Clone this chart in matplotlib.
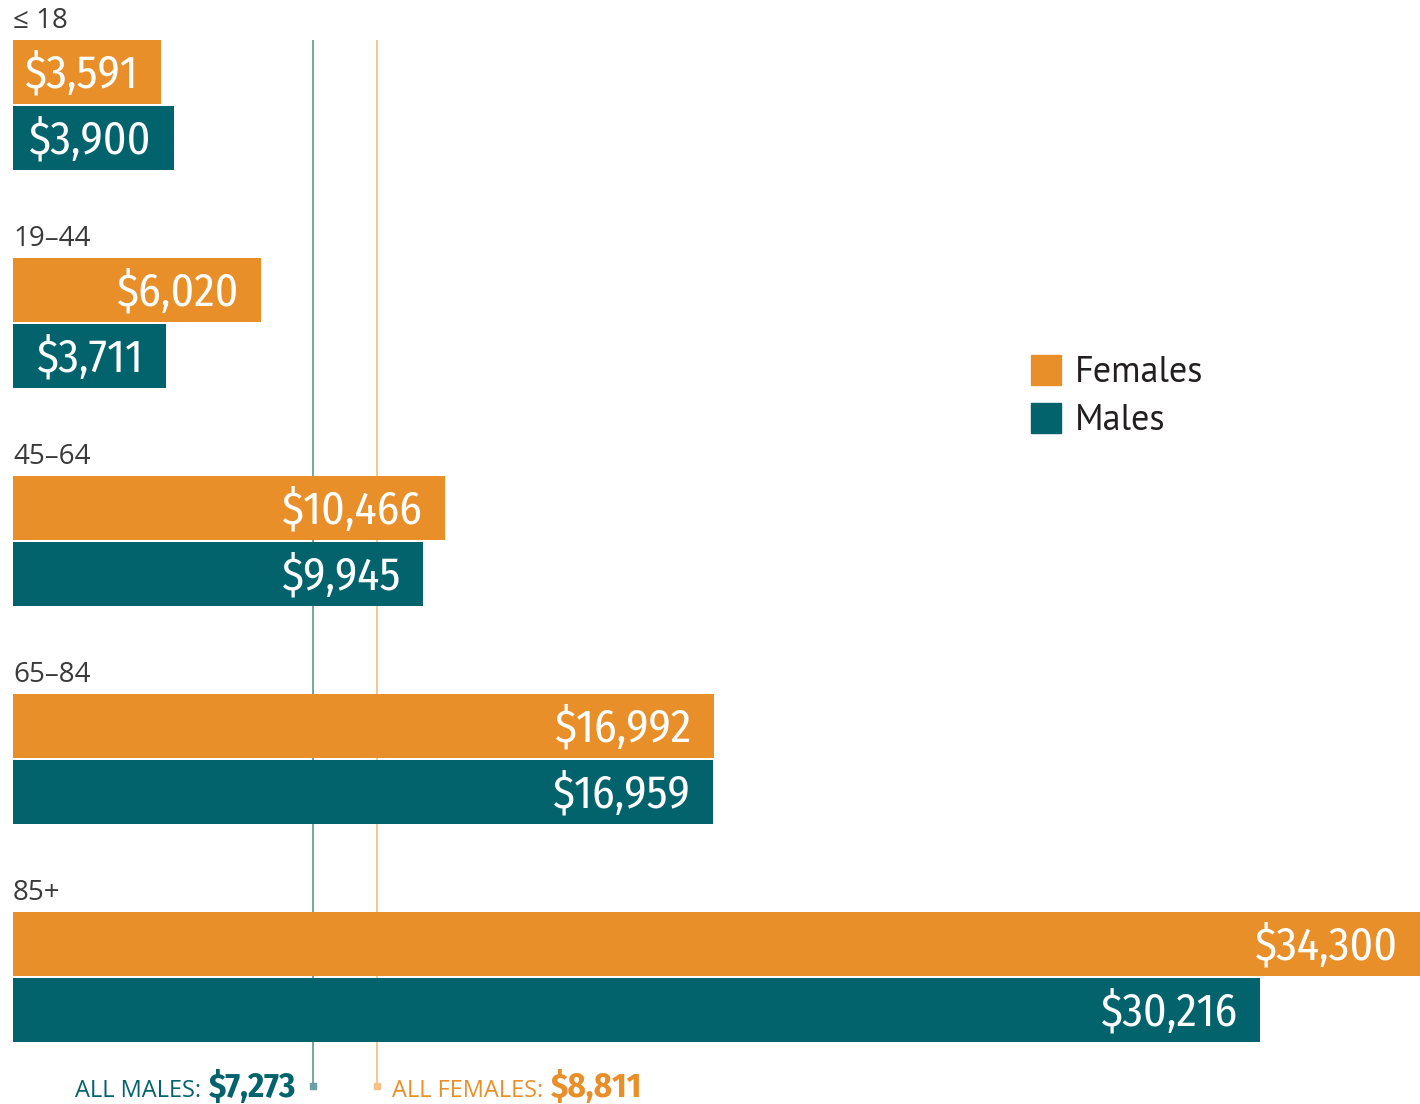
import matplotlib
matplotlib.use("Agg")
import matplotlib.pyplot as plt
from matplotlib.patches import Rectangle

# Average spending per person by age group and sex
age_groups = ["≤ 18", "19–44", "45–64", "65–84", "85+"]
females = [3591, 6020, 10466, 16992, 34300]
males = [3900, 3711, 9945, 16959, 30216]
all_males = 7273
all_females = 8811

ORANGE = "#E98F2A"
TEAL = "#02636C"
TEAL_LIGHT = "#6A9FA5"
ORANGE_LIGHT = "#F4C187"
GREY = "#3A3A3A"

NARROW = ["Fira Sans Condensed", "PT Sans Narrow", "DejaVu Sans"]
BODY = ["Open Sans", "DejaVu Sans"]
LEGEND_FONT = ["PT Sans", "Open Sans", "DejaVu Sans"]

W, H = 1420, 1104
fig = plt.figure(figsize=(W / 100, H / 100), dpi=100)

# main axes: x in dollars, y in layout units (one unit per pixel row)
ax = fig.add_axes([0, 0, 1, 1])
XMIN, XMAX = -315, 34093
ax.set_xlim(XMIN, XMAX)
ax.set_ylim(H, 0)
ax.axis("off")

PITCH = 218
BAR_H = 64
F_OFF, M_OFF = 72, 138

f_y = [F_OFF + PITCH * i for i in range(len(age_groups))]
m_y = [M_OFF + PITCH * i for i in range(len(age_groups))]

ax.barh(f_y, females, height=BAR_H, left=0, color=ORANGE, zorder=2)
ax.barh(m_y, males, height=BAR_H, left=0, color=TEAL, zorder=2)

# overall averages as reference lines
LINE_TOP, LINE_BOT = 40, 1086
ax.vlines(all_males, LINE_TOP, LINE_BOT, color=TEAL_LIGHT, lw=1.3, zorder=1)
ax.vlines(all_females, LINE_TOP, LINE_BOT, color=ORANGE_LIGHT, lw=1.3, zorder=1)
ax.plot([all_males], [LINE_BOT], marker="s", ms=5, color=TEAL_LIGHT, zorder=1)
ax.plot([all_females], [LINE_BOT], marker="s", ms=5, color=ORANGE_LIGHT, zorder=1)

# value labels inside bars
for ys, vals in ((f_y, females), (m_y, males)):
    for y, v in zip(ys, vals):
        ax.annotate(f"${v:,}", xy=(min(v, XMAX), y + 2), xytext=(-16, 0),
                    textcoords="offset points", ha="right", va="center",
                    color="white", fontsize=33, family=NARROW, zorder=3)

# age group labels above each pair
for i, g in enumerate(age_groups):
    ax.text(0, 28 + PITCH * i, g, ha="left", va="baseline", color=GREY,
            fontsize=20, family=BODY)

# overlay axes in pixel units for legend and footer
ov = fig.add_axes([0, 0, 1, 1])
ov.set_xlim(0, W)
ov.set_ylim(H, 0)
ov.axis("off")
ov.patch.set_alpha(0)

for (lab, col), yc in zip((("Females", ORANGE), ("Males", TEAL)), (370, 418)):
    ov.add_patch(Rectangle((1031, yc - 15), 30, 30, color=col))
    ov.text(1075, yc + 3, lab, ha="left", va="center", color="#231F20",
            fontsize=26, family=LEGEND_FONT)

# footer: overall averages
fig.canvas.draw()
r = fig.canvas.get_renderer()


def px(xval):
    return ax.transData.transform((xval, 0))[0]


base = 1097
mv = ov.text(px(all_males) - 17, base, f"${all_males:,}", ha="right",
             va="baseline", color=TEAL, fontsize=25, family=NARROW,
             fontweight="bold")
bb = mv.get_window_extent(r)
ov.text(bb.x0 - 8, base, "ALL MALES:", ha="right", va="baseline",
        color=TEAL, fontsize=17, family=BODY)

fl = ov.text(px(all_females) + 15, base, "ALL FEMALES:", ha="left",
             va="baseline", color=ORANGE, fontsize=17, family=BODY)
bb = fl.get_window_extent(r)
ov.text(bb.x1 + 8, base, f"${all_females:,}", ha="left", va="baseline",
        color=ORANGE, fontsize=25, family=NARROW, fontweight="bold")

fig.savefig("out.png", dpi=100, facecolor="white")
